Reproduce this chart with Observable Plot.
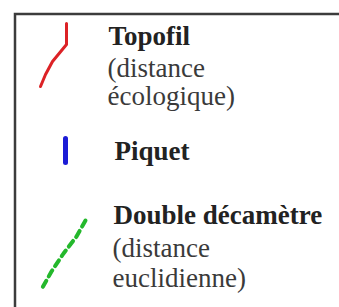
<!DOCTYPE html>
<html><head><meta charset="utf-8">
<script src="https://cdn.jsdelivr.net/npm/d3@7"></script>
<script src="https://cdn.jsdelivr.net/npm/@observablehq/plot@0.6"></script>
<style>body{margin:0;background:#fff}</style>
</head><body><div id="chart"></div>
<script>
// legend symbols (in picture coordinates)
const topofil = [{x:66,y:23},{x:66,y:44},{x:52,y:61},{x:45,y:74},{x:40,y:86}];
const piquet = [{x:65,y:138},{x:65,y:162}];
const decametre = [{x:85,y:220},{x:76,y:236},{x:63,y:253},{x:51,y:271},{x:42,y:287}];
const box = [{x1:15,y1:14,x2:360,y2:330}];
// labels
const boldLabels = [
  {x:108,y:44,text:"Topofil"},
  {x:114,y:159,text:"Piquet"},
  {x:113,y:223,text:"Double décamètre"}
];
const plainLabels = [
  {x:107,y:76,text:"(distance"},
  {x:107,y:104,text:"écologique)"},
  {x:112,y:256,text:"(distance"},
  {x:112,y:286,text:"euclidienne)"}
];
const chart = Plot.plot({
  width:339, height:307, margin:0,
  x:{domain:[0,339], range:[0,339], axis:null},
  y:{domain:[0,307], range:[0,307], axis:null},
  style:{background:"#fff"},
  marks:[
    Plot.rect(box,{x1:"x1",y1:"y1",x2:"x2",y2:"y2",fill:"none",stroke:"#3c3c3c",strokeWidth:2.5}),
    Plot.line(topofil,{x:"x",y:"y",stroke:"#dc2226",strokeWidth:3,strokeLinejoin:"round"}),
    Plot.line(piquet,{x:"x",y:"y",stroke:"#1c1cd6",strokeWidth:5,strokeLinecap:"round"}),
    Plot.line(decametre,{x:"x",y:"y",stroke:"#24b82c",strokeWidth:4,strokeDasharray:"7,5",strokeLinecap:"round"}),
    Plot.text(boldLabels,{x:"x",y:"y",text:"text",textAnchor:"start",lineAnchor:"bottom",fontFamily:"Liberation Serif",fontSize:27,fontWeight:"bold",fill:"#222",style:"letter-spacing:0.3px"}),
    Plot.text(plainLabels,{x:"x",y:"y",text:"text",textAnchor:"start",lineAnchor:"bottom",fontFamily:"Liberation Serif",fontSize:27,fill:"#3a3a3a"})
  ]
});
document.getElementById("chart").append(chart);
</script>
</body></html>
